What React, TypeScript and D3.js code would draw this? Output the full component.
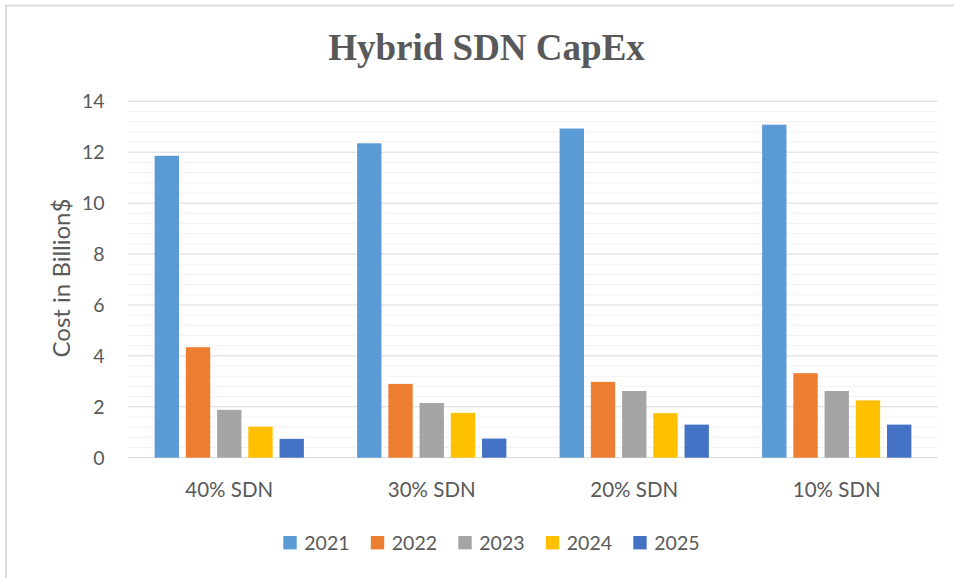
import React from "react";
import * as d3 from "d3";

const categories = ["40% SDN", "30% SDN", "20% SDN", "10% SDN"];
const seriesNames = ["2021", "2022", "2023", "2024", "2025"];
const seriesColors = ["#5B9BD5", "#ED7D31", "#A5A5A5", "#FFC000", "#4472C4"];
const values2021 = [11.86, 12.35, 12.93, 13.08];
const values2022 = [4.34, 2.9, 2.98, 3.32];
const values2023 = [1.88, 2.15, 2.62, 2.62];
const values2024 = [1.22, 1.76, 1.75, 2.25];
const values2025 = [0.74, 0.75, 1.3, 1.3];
const yTicks = [0, 2, 4, 6, 8, 10, 12, 14];

const seriesValues = [values2021, values2022, values2023, values2024, values2025];

const W = 954;
const H = 578;
const left = 128;
const right = 938;
const top = 101.3;
const bottom = 457.7;
const textColor = "#595959";
const font = "Lato, 'Open Sans', sans-serif";

export default function App() {
  const x0 = d3
    .scaleBand<string>()
    .domain(categories)
    .range([left, right])
    .paddingInner(0.263)
    .paddingOuter(0.1315);
  const x1 = d3
    .scaleBand<string>()
    .domain(seriesNames)
    .range([0, x0.bandwidth()])
    .paddingInner(0.22)
    .paddingOuter(0);
  const y = d3.scaleLinear().domain([0, 14]).range([bottom, top]);
  const minorTicks = d3.range(0, 14.001, 0.4).filter((v) => Math.abs(v / 2 - Math.round(v / 2)) > 1e-6);

  return (
    <svg
      width={W}
      height={H}
      style={{ position: "absolute", left: 0, top: 0, background: "#fff" }}
    >
      <rect x={6} y={5.5} width={1000} height={700} fill="#fff" stroke="#d9d9d9" strokeWidth={1.8} />
      <text
        x={486.5}
        y={60}
        textAnchor="middle"
        fontFamily="'Liberation Serif', 'Times New Roman', serif"
        fontWeight="bold"
        fontSize={37}
        fill={textColor}
      >
        Hybrid SDN CapEx
      </text>
      {minorTicks.map((v, i) => (
        <line key={"m" + i} x1={left} x2={right} y1={y(v)} y2={y(v)} stroke="#f2f2f2" strokeWidth={1} />
      ))}
      {yTicks.map((v) => (
        <line key={"g" + v} x1={left} x2={right} y1={y(v)} y2={y(v)} stroke="#d9d9d9" strokeWidth={1} />
      ))}
      {yTicks.map((v) => (
        <text
          key={"t" + v}
          x={104.5}
          y={y(v)}
          dy="0.36em"
          textAnchor="end"
          fontFamily={font}
          fontSize={19.5}
          fill={textColor}
        >
          {v}
        </text>
      ))}
      <text
        transform={`translate(70,278) rotate(-90)`}
        textAnchor="middle"
        fontFamily={font}
        fontSize={24}
        fill={textColor}
      >
        Cost in Billion$
      </text>
      {categories.map((c, ci) => (
        <g key={c} transform={`translate(${x0(c)},0)`}>
          {seriesNames.map((s, si) => {
            const v = seriesValues[si][ci];
            return (
              <rect
                key={s}
                x={x1(s)}
                y={y(v)}
                width={x1.bandwidth()}
                height={y(0) - y(v)}
                fill={seriesColors[si]}
              />
            );
          })}
        </g>
      ))}
      {categories.map((c) => (
        <text
          key={"x" + c}
          x={(x0(c) as number) + x0.bandwidth() / 2}
          y={497}
          textAnchor="middle"
          fontFamily={font}
          fontSize={20.5}
          fill={textColor}
        >
          {c}
        </text>
      ))}
      {seriesNames.map((s, i) => {
        const lx = 283.3 + i * 87.5;
        return (
          <g key={"l" + s}>
            <rect x={lx} y={536} width={13.4} height={13.4} fill={seriesColors[i]} />
            <text x={lx + 21} y={550} fontFamily={font} fontSize={19.5} fill={textColor}>
              {s}
            </text>
          </g>
        );
      })}
    </svg>
  );
}
